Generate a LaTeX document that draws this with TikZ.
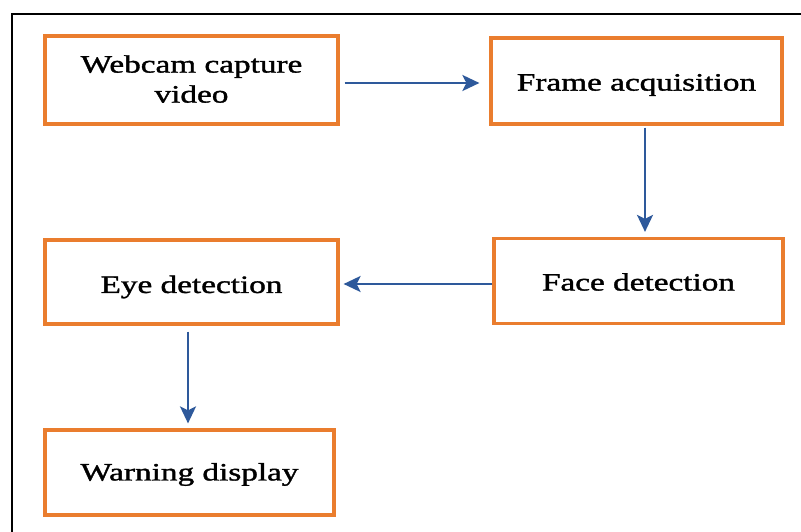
\documentclass[tikz,border=0pt]{standalone}
\usepackage{fontspec}
\setmainfont{Liberation Serif}
\newfontfamily\boxfont{Liberation Serif}[FakeBold=1.2]
\usetikzlibrary{arrows.meta}
\definecolor{boxorange}{RGB}{234,125,46}
\definecolor{arrowblue}{RGB}{46,89,155}
\tikzset{
  box/.style={draw=boxorange, line width=3.2pt, inner sep=0pt, align=center,
    font=\boxfont\fontsize{25}{28}\selectfont},
  flow/.style={draw=arrowblue, line width=2.2pt,
    -{Stealth[length=17pt,width=16pt,inset=4pt]}},
}
\newcommand{\wtxt}[2][-3pt]{\raisebox{#1}[\height][\depth]{\scalebox{1.33}[1]{#2}}}
\begin{document}
\begin{tikzpicture}[x=1pt,y=-1pt]
\useasboundingbox (0,0) rectangle (801,532);
\fill[white] (0,0) rectangle (801,532);
% outer frame (cropped)
\draw[line width=2pt,black] (801,14) -- (12,14) -- (12,532);
% boxes
\node[box, minimum width=293pt, minimum height=88pt] (web) at (191.5,80)
  {\wtxt[-2pt]{\begin{tabular}{@{}c@{}}Webcam capture\\[2pt]video\end{tabular}}};
\node[box, minimum width=291pt, minimum height=86pt] (frame) at (636.5,81)
  {\wtxt[-4pt]{Frame acquisition}};
\node[box, minimum width=289pt, minimum height=85pt] (face) at (638.5,281)
  {\wtxt[-1pt]{Face detection}};
\node[box, minimum width=293pt, minimum height=84pt] (eye) at (191.5,282)
  {\wtxt[-5pt]{Eye detection}};
\node[box, minimum width=289pt, minimum height=85pt] (warn) at (189.5,472.5)
  {\wtxt[-2pt]{Warning display}};
% connectors
\draw[flow, shorten <=5pt, shorten >=10pt] (web.east |- 0,83) -- (frame.west |- 0,83);
\draw[flow, shorten <=2pt, shorten >=5pt] (frame.south -| 645,0) -- (face.north -| 645,0);
\draw[flow, shorten <=0pt, shorten >=4pt] (face.west |- 0,284) -- (eye.east |- 0,284);
\draw[flow, shorten <=6pt, shorten >=5pt] (eye.south -| 188,0) -- (warn.north -| 188,0);
\end{tikzpicture}
\end{document}
